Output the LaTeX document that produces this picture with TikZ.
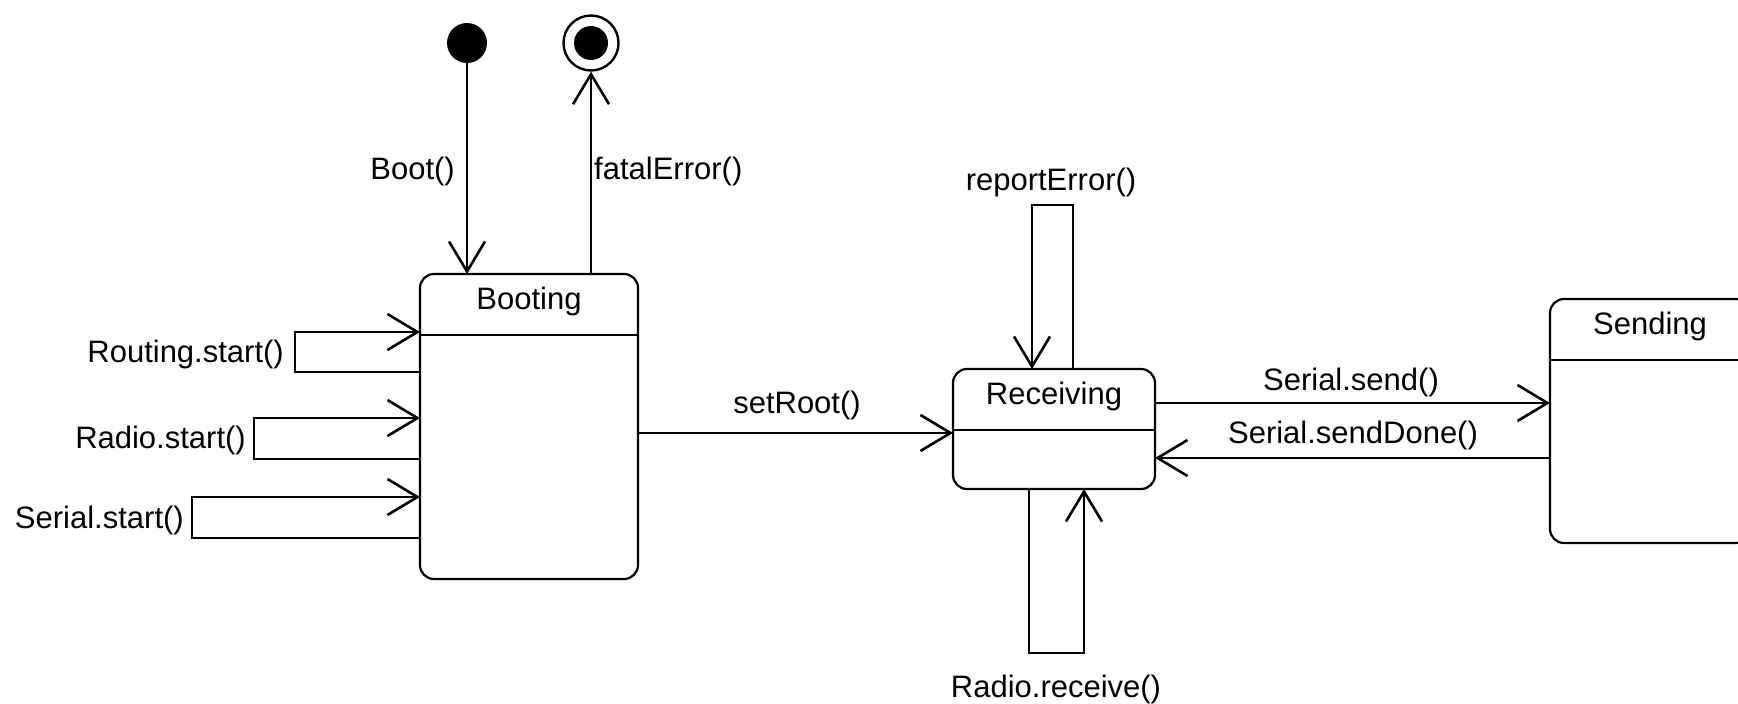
\documentclass[tikz,border=0pt]{standalone}
\usepackage{fontspec}
\setmainfont{Liberation Sans}
\usetikzlibrary{arrows.meta,calc}
\begin{document}
\begin{tikzpicture}[x=1pt,y=-1pt,
  state/.style={draw, line width=2.2pt, rounded corners=14pt, inner sep=0pt, outer sep=0pt},
  divider/.style={line width=2.2pt},
  conn/.style={line width=2.6pt, -{Straight Barb[length=30pt,width=36pt]}},
  plain/.style={line width=2.6pt},
  lbl/.style={font=\fontsize{31}{37}\selectfont, inner sep=0pt},
  ttl/.style={font=\fontsize{31}{37}\selectfont, inner sep=0pt, anchor=base},
]
\useasboundingbox (0,0) rectangle (1738,704);
\clip (0,0) rectangle (1738,704);

% pseudo states
\node[circle, fill=black, minimum size=40pt, inner sep=0pt] (init) at (467,43) {};
\node[circle, draw, line width=2.4pt, minimum size=55pt, inner sep=0pt] (final) at (591,43) {};
\node[circle, fill=black, minimum size=34pt, inner sep=0pt] (finaldot) at (final) {};

% states
\node[state, minimum width=218pt, minimum height=305pt] (boot) at (529,426.5) {};
\node[state, minimum width=202pt, minimum height=120pt] (recv) at (1054,429) {};
\node[state, minimum width=200pt, minimum height=244pt] (send) at (1650,421) {};

\draw[divider] ($(boot.north west)+(0,61)$) -- ($(boot.north east)+(0,61)$);
\draw[divider] ($(recv.north west)+(0,61)$) -- ($(recv.north east)+(0,61)$);
\draw[divider] ($(send.north west)+(0,61)$) -- ($(send.north east)+(0,61)$);

\node[ttl] (boottitle) at ($(boot.north)+(0,35)$) {Booting};
\node[ttl] (recvtitle) at ($(recv.north)+(0,35)$) {Receiving};
\node[ttl] (sendtitle) at ($(send.north)+(0,35)$) {Sending};

% helper points for routed connectors
\coordinate (sr) at (0,433);
\coordinate (ss) at (0,403);
\coordinate (sd) at (0,458);
\coordinate (rl1) at (295,372);
\coordinate (rl2) at (295,332);
\coordinate (ra1) at (254,459);
\coordinate (ra2) at (254,418);
\coordinate (se1) at (192,538);
\coordinate (se2) at (192,497);
\coordinate (re1) at (1073,205);
\coordinate (re2) at (1032,205);
\coordinate (rr1) at (1029,653);
\coordinate (rr2) at (1084,653);

% transitions
\draw[conn] (init) -- (init |- boot.north);
\draw[conn] (boot.north -| final) -- (final);
\draw[conn] (boot.east |- sr) -- (recv.west |- sr);
\draw[conn] (recv.east |- ss) -- (send.west |- ss);
\draw[conn] (send.west |- sd) -- (recv.east |- sd);

\draw[conn] (boot.west |- rl1) -- (rl1) -- (rl2) -- (boot.west |- rl2);
\draw[conn] (boot.west |- ra1) -- (ra1) -- (ra2) -- (boot.west |- ra2);
\draw[conn] (boot.west |- se1) -- (se1) -- (se2) -- (boot.west |- se2);

\draw[conn] (recv.north -| re1) -- (re1) -- (re2) -- (recv.north -| re2);
\draw[conn] (recv.south -| rr1) -- (rr1) -- (rr2) -- (recv.south -| rr2);

% transition labels
\node[lbl, anchor=base east] (lboot) at (455,179) {Boot()};
\node[lbl, anchor=base west] (lfatal) at (594,179) {fatalError()};
\node[lbl, anchor=base east] (lrout) at (284,362) {Routing.start()};
\node[lbl, anchor=base east] (lradio) at (246,448) {Radio.start()};
\node[lbl, anchor=base east] (lser) at (184,528) {Serial.start()};
\node[lbl, anchor=base] (lroot) at (797,413) {setRoot()};
\node[lbl, anchor=base] (lrep) at (1051,190) {reportError()};
\node[lbl, anchor=base] (lrecv) at (1056,697) {Radio.receive()};
\node[lbl, anchor=base] (lsend) at (1351,390) {Serial.send()};
\node[lbl, anchor=base] (ldone) at (1353,443) {Serial.sendDone()};
\end{tikzpicture}
\end{document}
